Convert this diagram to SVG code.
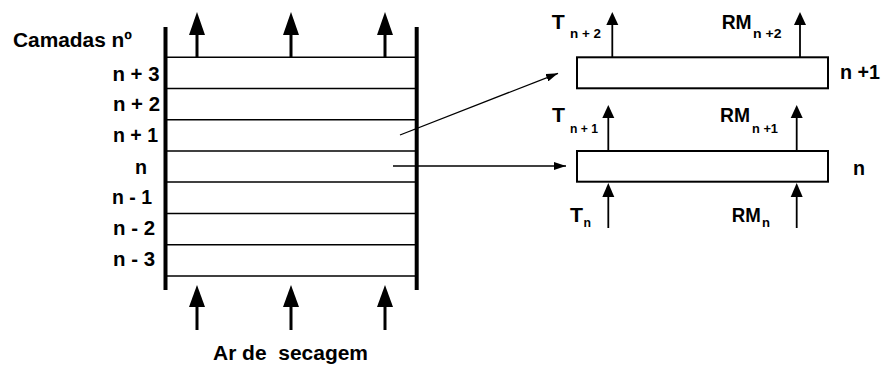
<svg xmlns="http://www.w3.org/2000/svg" width="881" height="367" viewBox="0 0 881 367">
<style>
text{font-family:"Liberation Sans",Arial,sans-serif;font-weight:bold;fill:#000}
.lbl{font-size:20px}
.sub{font-size:13px}
.wall{stroke:#000;stroke-width:4;fill:none}
.layer{stroke:#000;stroke-width:1.5;fill:none}
.box{stroke:#000;stroke-width:2;fill:#fff}
.shaftB{stroke:#000;stroke-width:3;fill:none}
.shaft{stroke:#000;stroke-width:1.8;fill:none}
.conn{stroke:#000;stroke-width:1.3;fill:none}
</style>
<defs>
<marker id="ah" viewBox="0 0 12 8" refX="12" refY="4" markerWidth="12" markerHeight="8" markerUnits="userSpaceOnUse" orient="auto">
<path d="M0,0 L12,4 L0,8 Z" fill="#000"/>
</marker>
</defs>
<rect width="881" height="367" fill="#fff"/>

<g id="column">
<line class="wall" x1="165.5" y1="27" x2="165.5" y2="290"/>
<line class="wall" x1="416.7" y1="27" x2="416.7" y2="290"/>
<line class="layer" x1="167" y1="57.3" x2="415" y2="57.3"/>
<line class="layer" x1="167" y1="88.5" x2="415" y2="88.5"/>
<line class="layer" x1="167" y1="119.7" x2="415" y2="119.7"/>
<line class="layer" x1="167" y1="151" x2="415" y2="151"/>
<line class="layer" x1="167" y1="182" x2="415" y2="182"/>
<line class="layer" x1="167" y1="213.5" x2="415" y2="213.5"/>
<line class="layer" x1="167" y1="244.8" x2="415" y2="244.8"/>
<line class="layer" x1="167" y1="276" x2="415" y2="276"/>
</g>

<g id="column-labels">
<text class="lbl" x="13" y="47" textLength="119" lengthAdjust="spacingAndGlyphs">Camadas nº</text>
<text class="lbl" x="112.5" y="80.5" textLength="47" lengthAdjust="spacingAndGlyphs">n + 3</text>
<text class="lbl" x="113" y="111" textLength="47" lengthAdjust="spacingAndGlyphs">n + 2</text>
<text class="lbl" x="113" y="142" textLength="45" lengthAdjust="spacingAndGlyphs">n + 1</text>
<text class="lbl" x="135" y="174" textLength="12" lengthAdjust="spacingAndGlyphs">n</text>
<text class="lbl" x="112" y="204" textLength="40" lengthAdjust="spacingAndGlyphs">n - 1</text>
<text class="lbl" x="113" y="235" textLength="42" lengthAdjust="spacingAndGlyphs">n - 2</text>
<text class="lbl" x="113" y="266" textLength="42" lengthAdjust="spacingAndGlyphs">n - 3</text>
</g>

<g id="air-out">
<line class="shaftB" x1="197" y1="57" x2="197" y2="33"/>
<polygon points="197,12 189,35 205,35"/>
<line class="shaftB" x1="291" y1="57" x2="291" y2="33"/>
<polygon points="291,12 283,35 299,35"/>
<line class="shaftB" x1="385" y1="57" x2="385" y2="33"/>
<polygon points="385,12 377,35 393,35"/>
</g>

<g id="air-in">
<line class="shaftB" x1="197" y1="330" x2="197" y2="305"/>
<polygon points="197,285 189,307 205,307"/>
<line class="shaftB" x1="291" y1="330" x2="291" y2="305"/>
<polygon points="291,285 283,307 299,307"/>
<line class="shaftB" x1="385" y1="330" x2="385" y2="305"/>
<polygon points="385,285 377,307 393,307"/>
<text class="lbl" x="213" y="360" textLength="155" lengthAdjust="spacingAndGlyphs" xml:space="preserve">Ar de  secagem</text>
</g>

<g id="layer-n1">
<rect class="box" x="577" y="57.3" width="251" height="31"/>
<line class="shaft" x1="612.3" y1="57" x2="612.3" y2="23"/>
<polygon points="612.3,12 606.3,25 618.3,25"/>
<line class="shaft" x1="800" y1="57" x2="800" y2="23"/>
<polygon points="800,12 794,25 806,25"/>
<text class="lbl" x="551.7" y="29" textLength="13" lengthAdjust="spacingAndGlyphs">T</text>
<text class="sub" x="570" y="38" textLength="31" lengthAdjust="spacingAndGlyphs">n + 2</text>
<text class="lbl" x="721.7" y="29" textLength="30" lengthAdjust="spacingAndGlyphs">RM</text>
<text class="sub" x="753" y="38" textLength="28.5" lengthAdjust="spacingAndGlyphs">n +2</text>
<text class="lbl" x="840" y="78.5" textLength="40" lengthAdjust="spacingAndGlyphs">n +1</text>
</g>

<g id="layer-n">
<rect class="box" x="577" y="151" width="251" height="30.7"/>
<line class="shaft" x1="608.3" y1="151" x2="608.3" y2="116"/>
<polygon points="608.3,105 602.3,118 614.3,118"/>
<line class="shaft" x1="796.7" y1="151" x2="796.7" y2="116"/>
<polygon points="796.7,105 790.7,118 802.7,118"/>
<text class="lbl" x="552" y="122" textLength="13" lengthAdjust="spacingAndGlyphs">T</text>
<text class="sub" x="570" y="132.5" textLength="28" lengthAdjust="spacingAndGlyphs">n + 1</text>
<text class="lbl" x="720" y="122" textLength="30" lengthAdjust="spacingAndGlyphs">RM</text>
<text class="sub" x="752" y="132.5" textLength="26" lengthAdjust="spacingAndGlyphs">n +1</text>
<text class="lbl" x="853" y="175" textLength="12" lengthAdjust="spacingAndGlyphs">n</text>
<line class="shaft" x1="608.3" y1="228" x2="608.3" y2="194"/>
<polygon points="608.3,183 602.3,197 614.3,197"/>
<line class="shaft" x1="796.7" y1="228" x2="796.7" y2="194"/>
<polygon points="796.7,183 790.7,197 802.7,197"/>
<text class="lbl" x="570" y="222" textLength="13" lengthAdjust="spacingAndGlyphs">T</text>
<text class="sub" x="583.5" y="227" textLength="7.5" lengthAdjust="spacingAndGlyphs">n</text>
<text class="lbl" x="731.7" y="222" textLength="29" lengthAdjust="spacingAndGlyphs">RM</text>
<text class="sub" x="762" y="227" textLength="8" lengthAdjust="spacingAndGlyphs">n</text>
</g>

<g id="connectors">
<line class="conn" x1="400" y1="135" x2="558" y2="73.3" marker-end="url(#ah)"/>
<line class="conn" x1="393" y1="166" x2="566" y2="166" marker-end="url(#ah)"/>
</g>
</svg>
